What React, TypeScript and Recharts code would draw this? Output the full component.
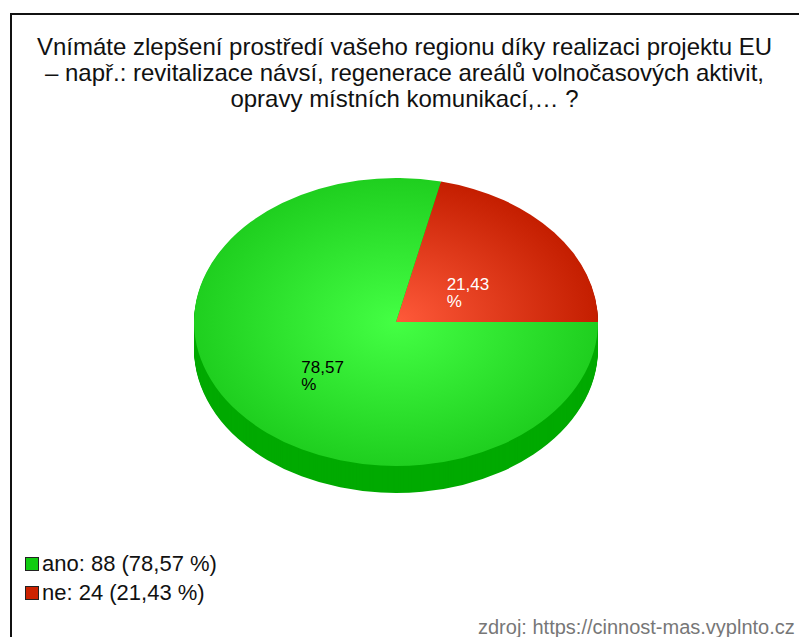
import React from 'react';
import { PieChart, Pie, Cell } from 'recharts';

// survey answers
const categories = ['ano', 'ne'];
const counts = [88, 24];

const titleLines = [
  'Vnímáte zlepšení prostředí vašeho regionu díky realizaci projektu EU',
  '– např.: revitalizace návsí, regenerace areálů volnočasových aktivit,',
  'opravy místních komunikací,… ?',
];
const sourceText = 'zdroj: https://cinnost-mas.vyplnto.cz';

const legendColors = ['#11cc11', '#cc2200'];
const wallColors = ['#00aa00', '#a01800'];
const gradientIds = ['gradAno', 'gradNe'];
const labelColors = ['#000000', '#ffffff'];

const total = counts.reduce((a, b) => a + b, 0);
const fmtPct = (v: number) => ((v / total) * 100).toFixed(2).replace('.', ',');

const rows = categories.map((name, i) => ({ name, value: counts[i], idx: i }));
// pie is drawn starting with the last answer at 3 o'clock
const pieData = [...rows].reverse();

const FONT = '"Liberation Sans", Arial, sans-serif';
const S = 144 / 202; // vertical squash of the pie
const CX = 396;
const CY = 322 / S;
const R = 202;
const DEPTH = 27;
const layers = Array.from({ length: DEPTH }, (_, k) => DEPTH - k);

const RAD = Math.PI / 180;

function renderLabel(props: any) {
  const { cx, cy, midAngle, outerRadius, payload } = props;
  const i = payload?.idx ?? props.idx ?? 0;
  const x = cx + 0.46 * outerRadius * Math.cos(-midAngle * RAD);
  const y = cy + 0.46 * outerRadius * Math.sin(-midAngle * RAD);
  return (
    <g transform={`translate(${x},${y}) scale(1,${1 / S})`}>
      <text x={-22} y={4} dominantBaseline="central" fontSize={17} fontFamily={FONT} fill={labelColors[i]}>
        {fmtPct(counts[i])}
      </text>
      <text x={-22} y={21} dominantBaseline="central" fontSize={17} fontFamily={FONT} fill={labelColors[i]}>
        %
      </text>
    </g>
  );
}

export default function App() {
  return (
    <div style={{ position: 'absolute', left: 0, top: 0, width: 799, height: 637, overflow: 'hidden', background: '#fff', fontFamily: FONT }}>
      <div style={{ position: 'absolute', left: 10, top: 13, width: 800, height: 700, borderTop: '2px solid #111', borderLeft: '2px solid #111' }} />
      <div style={{ position: 'absolute', left: 10, top: 34, width: 789, textAlign: 'center', fontSize: 24, lineHeight: '26px', color: '#111', whiteSpace: 'nowrap' }}>
        {titleLines.map((t) => (
          <div key={t}>{t}</div>
        ))}
      </div>

      <div style={{ position: 'absolute', left: 0, top: 0, width: 799, height: 700, transform: `scaleY(${S})`, transformOrigin: '0 0' }}>
        <PieChart width={799} height={700} margin={{ top: 0, right: 0, bottom: 0, left: 0 }}>
          <defs>
            <radialGradient id="gradAno" gradientUnits="userSpaceOnUse" cx={CX} cy={CY} r={R}>
              <stop offset="0%" stopColor="#44ff44" />
              <stop offset="100%" stopColor="#1fcf1f" />
            </radialGradient>
            <radialGradient id="gradNe" gradientUnits="userSpaceOnUse" cx={CX} cy={CY} r={R}>
              <stop offset="0%" stopColor="#ff5a3a" />
              <stop offset="100%" stopColor="#c41e00" />
            </radialGradient>
          </defs>
          {layers.map((k) => (
            <Pie
              key={k}
              data={pieData}
              dataKey="value"
              cx={CX}
              cy={CY + k / S}
              outerRadius={R}
              startAngle={0}
              endAngle={360}
              stroke="none"
              isAnimationActive={false}
              label={false}
              labelLine={false}
            >
              {pieData.map((d) => (
                <Cell key={d.name} fill={wallColors[d.idx]} />
              ))}
            </Pie>
          ))}
          <Pie
            data={pieData}
            dataKey="value"
            cx={CX}
            cy={CY}
            outerRadius={R}
            startAngle={0}
            endAngle={360}
            stroke="none"
            isAnimationActive={false}
            label={renderLabel}
            labelLine={false}
          >
            {pieData.map((d) => (
              <Cell key={d.name} fill={`url(#${gradientIds[d.idx]})`} />
            ))}
          </Pie>
        </PieChart>
      </div>

      <div style={{ position: 'absolute', left: 25, top: 549, fontSize: 22, lineHeight: '29px', color: '#111' }}>
        {rows.map((r) => (
          <div key={r.name} style={{ display: 'flex', alignItems: 'center', whiteSpace: 'nowrap' }}>
            <span style={{ display: 'inline-block', width: 12, height: 12, background: legendColors[r.idx], border: '1px solid #222', marginRight: 3 }} />
            {`${r.name}: ${r.value} (${fmtPct(r.value)} %)`}
          </div>
        ))}
      </div>

      <div style={{ position: 'absolute', left: 478, top: 616, fontSize: 20, color: '#777', whiteSpace: 'nowrap' }}>{sourceText}</div>
    </div>
  );
}
